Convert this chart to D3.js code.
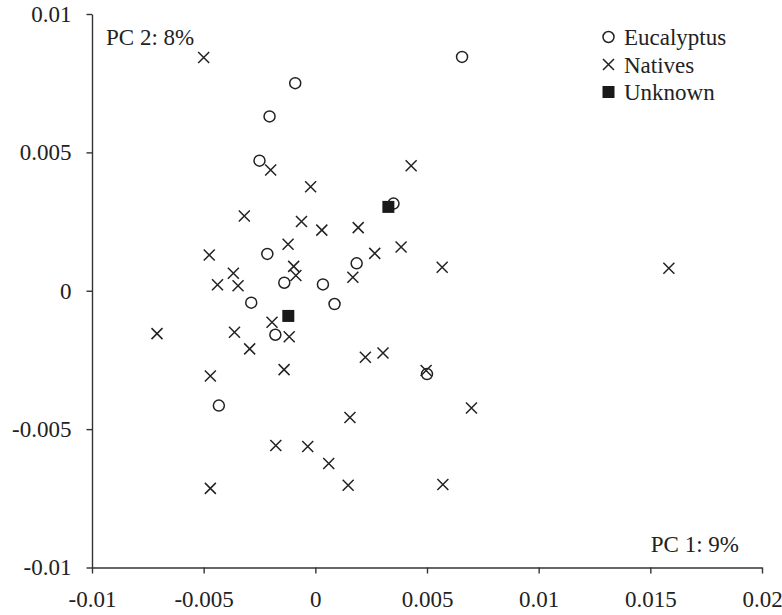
<!DOCTYPE html>
<html>
<head>
<meta charset="utf-8">
<script src="https://cdn.jsdelivr.net/npm/d3@7"></script>
<style>
  html, body { margin: 0; padding: 0; background: #fff; }
  svg { display: block; }
  text { font-family: "Liberation Serif", "Times New Roman", serif; fill: #222; }
</style>
</head>
<body>
<svg id="chart" width="782" height="615"></svg>
<script>
// ---- Data (PC1, PC2) ----
const eucalyptusX = [0.00657, -0.0009, -0.00205, -0.0025, 0.0035, -0.00215, -0.00139, 0.00034, 0.00185, -0.00287, 0.00086, -0.00179, -0.00432, 0.0050];
const eucalyptusY = [0.00845, 0.0075, 0.0063, 0.0047, 0.00315, 0.00133, 0.00029, 0.00023, 0.00099, -0.00043, -0.00048, -0.00159, -0.00415, -0.00301];

const nativesX = [-0.0050, -0.0020, -0.00021, -0.00318, -0.00062, 0.00029, 0.00192, -0.00122, 0.00266, -0.00475,
  -0.00367, -0.00097, -0.00087, -0.00438, -0.00346, 0.00168, 0.00429, 0.00384, 0.00568, 0.01583,
  -0.00709, -0.00362, -0.00194, -0.00117, -0.00294, 0.00224, 0.00303, -0.0014, -0.0047, 0.00155,
  -0.00177, -0.00034, 0.0006, 0.00147, -0.0047, 0.00496, 0.00699, 0.00571];
const nativesY = [0.00843, 0.00436, 0.00376, 0.0027, 0.0025, 0.00219, 0.00228, 0.00168, 0.00135, 0.00129,
  0.00063, 0.00088, 0.00055, 0.00022, 0.00018, 0.00049, 0.00452, 0.00158, 0.00085, 0.00081,
  -0.00155, -0.0015, -0.00114, -0.00166, -0.0021, -0.0024, -0.00225, -0.00285, -0.00308, -0.00458,
  -0.00559, -0.00563, -0.00624, -0.00703, -0.00714, -0.00288, -0.00424, -0.007];

const unknownX = [0.00327, -0.00121];
const unknownY = [0.00303, -0.00091];

const xTicks = [-0.01, -0.005, 0, 0.005, 0.01, 0.015, 0.02];
const yTicks = [-0.01, -0.005, 0, 0.005, 0.01];
const legendLabels = ["Eucalyptus", "Natives", "Unknown"];
const pc1Label = "PC 1: 9%";
const pc2Label = "PC 2: 8%";

// ---- Layout ----
const serif = '"Liberation Serif", "Times New Roman", serif';
const svg = d3.select("#chart");
const ink = "#222";
const x = d3.scaleLinear().domain([-0.01, 0.02]).range([92, 762]);
const y = d3.scaleLinear().domain([-0.01, 0.01]).range([567.5, 14]);
const fmt = d => d === 0 ? "0" : String(+d.toFixed(3));

const xAxis = svg.append("g").attr("transform", `translate(0,${y(-0.01)})`)
  .call(d3.axisBottom(x).tickValues(xTicks).tickFormat(fmt).tickSize(6).tickPadding(17).tickSizeOuter(0));
const yAxis = svg.append("g").attr("transform", `translate(${x(-0.01)},0)`)
  .call(d3.axisLeft(y).tickValues(yTicks).tickFormat(fmt).tickSize(5.5).tickPadding(15).tickSizeOuter(0));
[xAxis, yAxis].forEach(g => {
  g.attr("font-family", serif).attr("font-size", 23);
  g.selectAll("path, line").attr("stroke", "#333").attr("stroke-width", 1.4);
  g.selectAll("text").attr("fill", ink);
});

// ---- Markers ----
const r = 5.5, h = 5.5, sq = 12;
function drawCircle(g, cx, cy) {
  g.append("circle").attr("cx", cx).attr("cy", cy).attr("r", r)
    .attr("fill", "none").attr("stroke", ink).attr("stroke-width", 1.5);
}
function drawCross(g, cx, cy) {
  g.append("path").attr("d", `M${cx - h},${cy - h}L${cx + h},${cy + h}M${cx - h},${cy + h}L${cx + h},${cy - h}`)
    .attr("fill", "none").attr("stroke", ink).attr("stroke-width", 1.5);
}
function drawSquare(g, cx, cy) {
  g.append("rect").attr("x", cx - sq / 2).attr("y", cy - sq / 2).attr("width", sq).attr("height", sq)
    .attr("fill", "#1a1a1a");
}

const pts = svg.append("g");
eucalyptusX.forEach((v, i) => drawCircle(pts, x(v), y(eucalyptusY[i])));
nativesX.forEach((v, i) => drawCross(pts, x(v), y(nativesY[i])));
unknownX.forEach((v, i) => drawSquare(pts, x(v), y(unknownY[i])));

// ---- Legend ----
const lg = svg.append("g");
const drawers = [drawCircle, drawCross, drawSquare];
legendLabels.forEach((lab, i) => {
  const cy = 37 + i * 27.5;
  drawers[i](lg, 608.5, cy);
  lg.append("text").attr("x", 624).attr("y", cy + 8).attr("font-size", 23).text(lab);
});

// ---- Axis annotations ----
svg.append("text").attr("x", 106).attr("y", 45).attr("font-size", 23).text(pc2Label);
svg.append("text").attr("x", 739).attr("y", 551.5).attr("text-anchor", "end").attr("font-size", 23).text(pc1Label);
</script>
</body>
</html>
